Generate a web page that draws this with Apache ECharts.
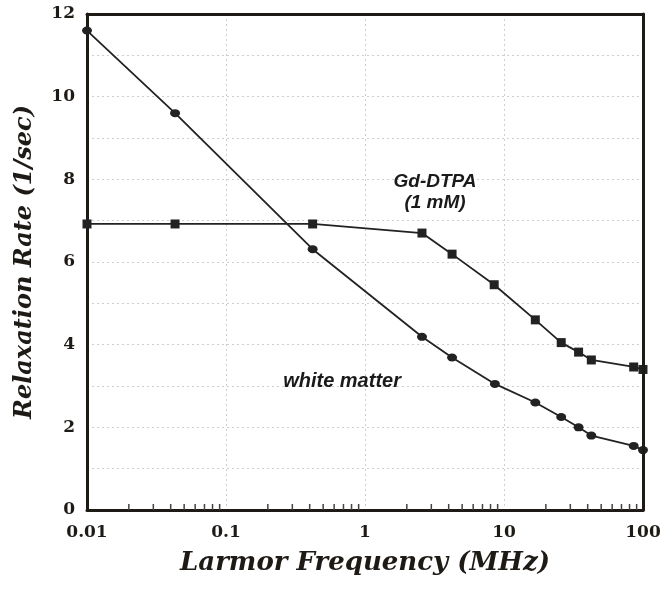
<!DOCTYPE html>
<html>
<head>
<meta charset="utf-8">
<script src="https://cdn.jsdelivr.net/npm/echarts@6/dist/echarts.min.js"></script>
<style>html,body{margin:0;padding:0;background:#fff;}#c{width:672px;height:590px;}</style>
</head>
<body>
<div id="c"></div>
<script>
var freqWM = [0.01, 0.043, 0.42, 2.57, 4.23, 8.6, 16.8, 25.8, 34.4, 42.5, 85.7, 100];
var rateWM = [11.6, 9.6, 6.31, 4.19, 3.69, 3.05, 2.6, 2.25, 2.0, 1.8, 1.55, 1.45];
var freqGd = [0.01, 0.043, 0.42, 2.57, 4.23, 8.5, 16.8, 25.8, 34.4, 42.5, 85.7, 100];
var rateGd = [6.92, 6.92, 6.92, 6.7, 6.19, 5.45, 4.6, 4.05, 3.82, 3.63, 3.46, 3.4];
var xTickLabels = {0.01: '0.01', 0.1: '0.1', 1: '1', 10: '10', 100: '100'};
var yTickLabels = [0, 2, 4, 6, 8, 10, 12];
var decades = [0.01, 0.1, 1, 10];
var minorMult = [2, 3, 4, 5, 6, 7, 8, 9];

var minorTicks = [];
decades.forEach(function (d) { minorMult.forEach(function (m) { minorTicks.push([+(d * m).toPrecision(3), 0]); }); });

function pairs(xs, ys) { return xs.map(function (x, i) { return [x, ys[i]]; }); }

var serifB = '"DejaVu Serif"';
var ink = '#1e1a16';
var frameLine = {show: true, onZero: false, lineStyle: {color: ink, width: 3}};
var chart = echarts.init(document.getElementById('c'), null, {renderer: 'canvas'});
chart.setOption({
  animation: false,
  backgroundColor: '#fff',
  grid: {left: 87, right: 29, top: 14, bottom: 80, show: false},
  xAxis: [{
    type: 'log', logBase: 10, min: 0.01, max: 100,
    name: 'Larmor Frequency (MHz)', nameLocation: 'middle', nameGap: 40,
    nameTextStyle: {fontFamily: serifB, fontWeight: 'bold', fontStyle: 'italic', fontSize: 26, color: ink},
    axisLine: frameLine,
    axisTick: {show: false},
    axisLabel: {
      margin: 14, color: ink, fontFamily: serifB, fontWeight: 'bold', fontSize: 17,
      formatter: function (v) { var k = +v.toPrecision(3); return xTickLabels[k] || ''; }
    },
    splitLine: {show: true, lineStyle: {color: '#cfcfcf', width: 1, type: [2, 3]}},
    z: 1
  }, {
    type: 'value', min: 0, max: 1, position: 'top',
    axisLine: frameLine, axisTick: {show: false}, axisLabel: {show: false}, splitLine: {show: false}, z: 5
  }],
  yAxis: [{
    type: 'value', min: 0, max: 12, interval: 1,
    name: 'Relaxation Rate (1/sec)', nameLocation: 'middle', nameGap: 50,
    nameTextStyle: {fontFamily: serifB, fontWeight: 'bold', fontStyle: 'italic', fontSize: 24, color: ink},
    axisLine: frameLine,
    axisTick: {show: false},
    axisLabel: {
      margin: 12, color: ink, fontFamily: serifB, fontWeight: 'bold', fontSize: 17,
      formatter: function (v) { return yTickLabels.indexOf(v) >= 0 ? String(v) : ''; }
    },
    splitLine: {show: true, lineStyle: {color: '#cfcfcf', width: 1, type: [2, 3]}},
    z: 1
  }, {
    type: 'value', min: 0, max: 12, interval: 1, position: 'right',
    axisLine: frameLine, axisTick: {show: false}, axisLabel: {show: false}, splitLine: {show: false}, z: 5
  }],
  series: [
    {
      name: 'white matter', type: 'line', data: pairs(freqWM, rateWM),
      symbol: 'circle', symbolSize: [10, 8], showAllSymbol: true,
      lineStyle: {color: '#222', width: 1.8}, itemStyle: {color: '#222'}, z: 3
    },
    {
      name: 'Gd-DTPA', type: 'line', data: pairs(freqGd, rateGd),
      symbol: 'rect', symbolSize: 9, showAllSymbol: true,
      lineStyle: {color: '#222', width: 1.8}, itemStyle: {color: '#222'}, z: 3
    },
    {
      name: 'minor', type: 'scatter', data: minorTicks, silent: true,
      symbol: 'rect', symbolSize: [1.5, 6], symbolOffset: [0, -3], itemStyle: {color: '#444', opacity: 1}, z: 4
    },
    {
      name: 'labels', type: 'scatter', silent: true, symbolSize: 0,
      itemStyle: {opacity: 1},
      data: [
        {value: [3.19, 7.69], label: {formatter: 'Gd-DTPA\n(1 mM)', fontSize: 19, lineHeight: 21}},
        {value: [0.684, 3.1], label: {formatter: 'white matter', fontSize: 20}}
      ],
      label: {show: true, position: 'inside', color: '#1a1a1a', fontFamily: '"Liberation Sans", Arial', fontWeight: 'bold', fontStyle: 'italic', align: 'center', verticalAlign: 'middle'}
    }
  ]
});
</script>
</body>
</html>
